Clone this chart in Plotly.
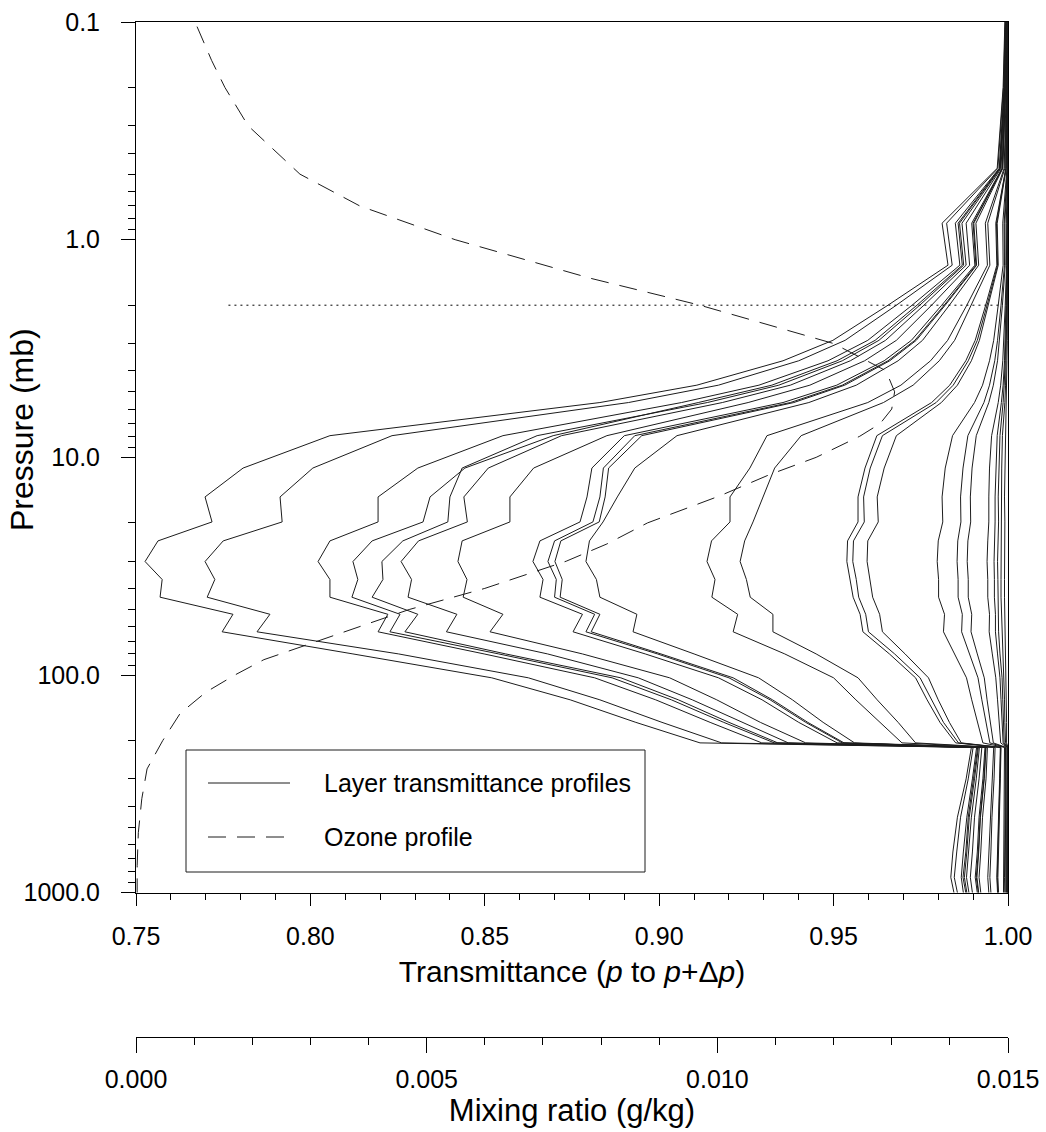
import plotly.graph_objects as go

# ---------------- data ----------------
PRESSURE_LEVELS = [0.1, 0.2, 0.47, 0.84, 1.31, 2.0, 2.9, 3.6, 4.66, 5.6, 7.95, 11.2, 15.2, 19.8,
                   24.2, 30.1, 36.4, 43.9, 52.6, 63.3, 80, 103, 130, 165, 205, 215, 300, 450,
                   650, 850, 1000]

trans_a = [0.9991, 0.9986, 0.9969, 0.9811, 0.9828, 0.9656, 0.9498, 0.9355, 0.9108, 0.8830, 0.8056,
           0.7807, 0.7698, 0.7718, 0.7563, 0.7526, 0.7575, 0.7569, 0.7778, 0.7747, 0.8122, 0.8520,
           0.8745, 0.8933, 0.9117, 0.9895, 0.9880, 0.9855, 0.9842, 0.9836, 0.9845]
trans_b = [0.9992, 0.9987, 0.9971, 0.9824, 0.9840, 0.9680, 0.9533, 0.9400, 0.9170, 0.8912, 0.8234,
           0.8007, 0.7913, 0.7919, 0.7750, 0.7698, 0.7726, 0.7704, 0.7884, 0.7847, 0.8253, 0.8625,
           0.8830, 0.9008, 0.9179, 0.9900, 0.9886, 0.9864, 0.9853, 0.9846, 0.9855]
trans_c = [0.9993, 0.9989, 0.9975, 0.9849, 0.9862, 0.9725, 0.9598, 0.9484, 0.9286, 0.9064, 0.8552,
           0.8308, 0.8194, 0.8194, 0.8056, 0.8022, 0.8056, 0.8056, 0.8222, 0.8194, 0.8498, 0.8815,
           0.8990, 0.9146, 0.9294, 0.9910, 0.9898, 0.9882, 0.9872, 0.9866, 0.9872]
trans_d = [0.9993, 0.9989, 0.9976, 0.9857, 0.9869, 0.9739, 0.9619, 0.9510, 0.9323, 0.9112, 0.8696,
           0.8443, 0.8343, 0.8323, 0.8177, 0.8122, 0.8136, 0.8119, 0.8257, 0.8228, 0.8540, 0.8865,
           0.9035, 0.9185, 0.9330, 0.9913, 0.9901, 0.9886, 0.9879, 0.9871, 0.9879]
trans_e = [0.9993, 0.9990, 0.9977, 0.9861, 0.9873, 0.9747, 0.9630, 0.9525, 0.9343, 0.9138, 0.8650,
           0.8435, 0.8400, 0.8394, 0.8265, 0.8205, 0.8208, 0.8177, 0.8308, 0.8271, 0.8560, 0.8890,
           0.9055, 0.9200, 0.9340, 0.9915, 0.9904, 0.9889, 0.9882, 0.9875, 0.9882]
trans_f = [0.9994, 0.9990, 0.9978, 0.9868, 0.9880, 0.9759, 0.9649, 0.9548, 0.9376, 0.9181, 0.8720,
           0.8510, 0.8440, 0.8450, 0.8310, 0.8260, 0.8290, 0.8280, 0.8420, 0.8390, 0.8680, 0.8940,
           0.9095, 0.9240, 0.9370, 0.9918, 0.9909, 0.9895, 0.9888, 0.9881, 0.9888]
trans_g = [0.9994, 0.9991, 0.9980, 0.9880, 0.9890, 0.9781, 0.9680, 0.9589, 0.9432, 0.9255, 0.8850,
           0.8640, 0.8572, 0.8572, 0.8435, 0.8423, 0.8449, 0.8438, 0.8552, 0.8515, 0.8780, 0.9030,
           0.9165, 0.9290, 0.9420, 0.9925, 0.9917, 0.9904, 0.9898, 0.9892, 0.9898]
trans_h = [0.9995, 0.9992, 0.9983, 0.9896, 0.9905, 0.9810, 0.9723, 0.9645, 0.9509, 0.9355, 0.8900,
           0.8807, 0.8793, 0.8773, 0.8658, 0.8638, 0.8667, 0.8658, 0.8780, 0.8753, 0.8960, 0.9170,
           0.9295, 0.9400, 0.9510, 0.9934, 0.9928, 0.9917, 0.9912, 0.9906, 0.9912]
trans_i = [0.9995, 0.9993, 0.9984, 0.9900, 0.9908, 0.9817, 0.9733, 0.9656, 0.9525, 0.9376, 0.8930,
           0.8840, 0.8830, 0.8810, 0.8700, 0.8681, 0.8705, 0.8700, 0.8815, 0.8790, 0.8995, 0.9200,
           0.9318, 0.9420, 0.9525, 0.9936, 0.9931, 0.9920, 0.9915, 0.9909, 0.9915]
trans_j = [0.9995, 0.9993, 0.9984, 0.9902, 0.9910, 0.9820, 0.9737, 0.9661, 0.9532, 0.9386, 0.8950,
           0.8855, 0.8845, 0.8828, 0.8718, 0.8701, 0.8722, 0.8716, 0.8830, 0.8805, 0.9005, 0.9212,
           0.9325, 0.9426, 0.9530, 0.9937, 0.9932, 0.9921, 0.9916, 0.9911, 0.9916]
trans_k = [0.9996, 0.9993, 0.9985, 0.9908, 0.9916, 0.9832, 0.9755, 0.9685, 0.9565, 0.9429, 0.9051,
           0.8930, 0.8880, 0.8839, 0.8800, 0.8790, 0.8820, 0.8830, 0.8936, 0.8925, 0.9100, 0.9285,
           0.9382, 0.9470, 0.9560, 0.9941, 0.9937, 0.9927, 0.9922, 0.9917, 0.9922]
trans_l = [0.9997, 0.9995, 0.9989, 0.9935, 0.9941, 0.9882, 0.9827, 0.9778, 0.9693, 0.9598, 0.9309,
           0.9260, 0.9203, 0.9203, 0.9150, 0.9137, 0.9160, 0.9151, 0.9225, 0.9212, 0.9360, 0.9500,
           0.9564, 0.9633, 0.9696, 0.9959, 0.9955, 0.9948, 0.9945, 0.9942, 0.9945]
trans_m = [0.9997, 0.9996, 0.9991, 0.9942, 0.9948, 0.9895, 0.9847, 0.9803, 0.9728, 0.9643, 0.9407,
           0.9331, 0.9298, 0.9269, 0.9245, 0.9232, 0.9250, 0.9261, 0.9326, 0.9326, 0.9450, 0.9570,
           0.9625, 0.9685, 0.9735, 0.9963, 0.9960, 0.9954, 0.9951, 0.9948, 0.9951]
trans_n = [0.9998, 0.9997, 0.9994, 0.9965, 0.9968, 0.9936, 0.9906, 0.9879, 0.9833, 0.9781, 0.9624,
           0.9590, 0.9570, 0.9570, 0.9540, 0.9538, 0.9548, 0.9556, 0.9576, 0.9584, 0.9660, 0.9735,
           0.9768, 0.9805, 0.9850, 0.9978, 0.9976, 0.9972, 0.9970, 0.9968, 0.9970]
trans_o = [0.9998, 0.9997, 0.9994, 0.9967, 0.9970, 0.9940, 0.9912, 0.9886, 0.9843, 0.9794, 0.9640,
           0.9605, 0.9586, 0.9588, 0.9557, 0.9555, 0.9565, 0.9572, 0.9592, 0.9600, 0.9675, 0.9748,
           0.9780, 0.9815, 0.9858, 0.9979, 0.9977, 0.9973, 0.9971, 0.9969, 0.9971]
trans_p = [0.9998, 0.9998, 0.9995, 0.9969, 0.9972, 0.9944, 0.9918, 0.9895, 0.9855, 0.9809, 0.9680,
           0.9645, 0.9625, 0.9628, 0.9598, 0.9596, 0.9605, 0.9612, 0.9632, 0.9640, 0.9705, 0.9772,
           0.9800, 0.9832, 0.9866, 0.9980, 0.9978, 0.9975, 0.9973, 0.9971, 0.9973]
trans_q = [0.9999, 0.9999, 0.9997, 0.9985, 0.9986, 0.9972, 0.9959, 0.9947, 0.9927, 0.9904, 0.9841,
           0.9820, 0.9811, 0.9813, 0.9800, 0.9797, 0.9801, 0.9801, 0.9818, 0.9815, 0.9846, 0.9881,
           0.9896, 0.9913, 0.9928, 0.9990, 0.9989, 0.9988, 0.9987, 0.9986, 0.9987]
trans_r = [0.9999, 0.9999, 0.9998, 0.9989, 0.9990, 0.9980, 0.9970, 0.9962, 0.9947, 0.9931, 0.9885,
           0.9871, 0.9864, 0.9865, 0.9856, 0.9854, 0.9857, 0.9857, 0.9869, 0.9867, 0.9889, 0.9914,
           0.9925, 0.9937, 0.9948, 0.9993, 0.9992, 0.9991, 0.9991, 0.9990, 0.9991]
trans_s = [1.0000, 0.9999, 0.9999, 0.9991, 0.9992, 0.9984, 0.9976, 0.9970, 0.9958, 0.9945, 0.9909,
           0.9897, 0.9892, 0.9893, 0.9885, 0.9883, 0.9886, 0.9886, 0.9896, 0.9894, 0.9912, 0.9932,
           0.9940, 0.9950, 0.9958, 0.9994, 0.9994, 0.9993, 0.9992, 0.9992, 0.9992]
trans_t = [1.0000, 1.0000, 0.9999, 0.9995, 0.9996, 0.9992, 0.9988, 0.9985, 0.9979, 0.9972, 0.9953,
           0.9947, 0.9945, 0.9945, 0.9942, 0.9940, 0.9942, 0.9942, 0.9947, 0.9946, 0.9955, 0.9965,
           0.9970, 0.9974, 0.9979, 0.9997, 0.9997, 0.9996, 0.9996, 0.9996, 0.9996]
trans_u = [1.0000, 1.0000, 1.0000, 0.9997, 0.9997, 0.9994, 0.9992, 0.9990, 0.9986, 0.9981, 0.9969,
           0.9965, 0.9963, 0.9963, 0.9961, 0.9960, 0.9961, 0.9961, 0.9964, 0.9964, 0.9970, 0.9977,
           0.9980, 0.9983, 0.9986, 0.9998, 0.9998, 0.9998, 0.9997, 0.9997, 0.9997]
trans_v = [1.0000, 1.0000, 1.0000, 0.9998, 0.9998, 0.9996, 0.9994, 0.9992, 0.9989, 0.9986, 0.9977,
           0.9974, 0.9972, 0.9973, 0.9971, 0.9970, 0.9971, 0.9971, 0.9973, 0.9973, 0.9977, 0.9983,
           0.9985, 0.9987, 0.9989, 0.9999, 0.9998, 0.9998, 0.9998, 0.9998, 0.9998]
trans_w = [1.0000, 1.0000, 1.0000, 0.9998, 0.9999, 0.9997, 0.9996, 0.9995, 0.9993, 0.9991, 0.9984,
           0.9982, 0.9981, 0.9981, 0.9980, 0.9980, 0.9980, 0.9980, 0.9982, 0.9982, 0.9985, 0.9988,
           0.9990, 0.9991, 0.9993, 0.9999, 0.9999, 0.9999, 0.9999, 0.9999, 0.9999]
trans_x = [1.0000, 1.0000, 1.0000, 0.9999, 0.9999, 0.9999, 0.9998, 0.9997, 0.9996, 0.9995, 0.9992,
           0.9991, 0.9990, 0.9991, 0.9990, 0.9990, 0.9990, 0.9990, 0.9991, 0.9991, 0.9992, 0.9994,
           0.9995, 0.9996, 0.9996, 1.0000, 1.0000, 1.0000, 1.0000, 1.0000, 1.0000]

TRANSMITTANCE_PROFILES = [trans_a, trans_b, trans_c, trans_d, trans_e, trans_f, trans_g, trans_h,
                          trans_i, trans_j, trans_k, trans_l, trans_m, trans_n, trans_o, trans_p,
                          trans_q, trans_r, trans_s, trans_t, trans_u, trans_v, trans_w, trans_x]

OZONE_PRESSURE = [0.105, 0.15, 0.2, 0.3, 0.5, 0.7, 1.0, 1.5, 2.0, 3.0, 4.0, 5.0, 6.0, 7.0, 8.0,
                  10, 12, 15, 20, 25, 30, 40, 50, 60, 70, 85, 100, 120, 150, 200, 270, 370, 530,
                  750, 1000]
OZONE_MIXING_RATIO = [0.00105, 0.00130, 0.00153, 0.00193, 0.00282, 0.00385, 0.00549, 0.00780,
                      0.00970, 0.01200, 0.01290, 0.01305, 0.01300, 0.01280, 0.01245, 0.01170,
                      0.01090, 0.01005, 0.00880, 0.00810, 0.00740, 0.00600, 0.00470, 0.00385,
                      0.00310, 0.00220, 0.00170, 0.00120, 0.00076, 0.00046, 0.00019, 0.00010,
                      0.00004, 0.00002, 0.00002]

REFERENCE_LEVEL_P = [2.0, 2.0]
REFERENCE_LEVEL_T = [0.7765, 0.998]

Y_TICKS = [0.1, 1, 10, 100, 1000]
Y_TICK_TEXT = ["0.1", "1.0", "10.0", "100.0", "1000.0"]
X_TICKS = [0.75, 0.80, 0.85, 0.90, 0.95, 1.00]
X_TICK_TEXT = ["0.75", "0.80", "0.85", "0.90", "0.95", "1.00"]
MR_TICKS = [0.0, 0.005, 0.010, 0.015]
MR_TICK_TEXT = ["0.000", "0.005", "0.010", "0.015"]
Y_MINOR = [m * d for d in (0.1, 1, 10, 100) for m in range(2, 10)]

# ---------------- figure ----------------
LINE_COLOR = "#1c1c1c"
FONT = "Liberation Sans, Arial, Helvetica, sans-serif"

fig = go.Figure()
for prof in TRANSMITTANCE_PROFILES:
    fig.add_trace(go.Scatter(x=prof, y=PRESSURE_LEVELS, mode="lines",
                             line=dict(color=LINE_COLOR, width=1),
                             name="Layer transmittance profiles", showlegend=False,
                             hoverinfo="skip"))

fig.add_trace(go.Scatter(x=OZONE_MIXING_RATIO, y=OZONE_PRESSURE, mode="lines",
                         xaxis="x2", yaxis="y",
                         line=dict(color=LINE_COLOR, width=1, dash="18px,11px"),
                         name="Ozone profile", showlegend=False, hoverinfo="skip"))

fig.add_trace(go.Scatter(x=REFERENCE_LEVEL_T, y=REFERENCE_LEVEL_P, mode="lines",
                         line=dict(color="black", width=1, dash="2px,4px"),
                         showlegend=False, hoverinfo="skip"))

W, H = 1046, 1132
ML, MR_, MT, MB = 136, 38, 22, 95
plot_h = H - MT - MB
y_dom_low = (1037 - 892.7) / plot_h


def px_to_paper_x(px):
    return (px - ML) / (W - ML - MR_)


def px_to_paper_y(py):
    return (H - MB - py) / plot_h


# manual legend
bx0, bx1 = px_to_paper_x(186), px_to_paper_x(645)
by0, by1 = px_to_paper_y(872), px_to_paper_y(750)
shapes = [
    dict(type="rect", xref="paper", yref="paper", x0=bx0, x1=bx1, y0=by0, y1=by1,
         line=dict(color=LINE_COLOR, width=1), fillcolor="white", layer="above"),
    dict(type="line", xref="paper", yref="paper", x0=px_to_paper_x(208), x1=px_to_paper_x(290),
         y0=px_to_paper_y(783), y1=px_to_paper_y(783), line=dict(color=LINE_COLOR, width=1)),
    dict(type="line", xref="paper", yref="paper", x0=px_to_paper_x(208), x1=px_to_paper_x(290),
         y0=px_to_paper_y(837), y1=px_to_paper_y(837),
         line=dict(color=LINE_COLOR, width=1, dash="18px,11px")),
]
annotations = [
    dict(text="Layer transmittance profiles", xref="paper", yref="paper",
         x=px_to_paper_x(322), y=px_to_paper_y(783), xanchor="left", yanchor="middle",
         showarrow=False, font=dict(size=25, family=FONT, color="black")),
    dict(text="Ozone profile", xref="paper", yref="paper",
         x=px_to_paper_x(322), y=px_to_paper_y(837), xanchor="left", yanchor="middle",
         showarrow=False, font=dict(size=25, family=FONT, color="black")),
    dict(text="Pressure (mb)", xref="paper", yref="paper", textangle=-90,
         x=px_to_paper_x(22), y=px_to_paper_y(430), xanchor="center", yanchor="middle",
         showarrow=False, font=dict(size=32, family=FONT, color="black")),
]

axis_common = dict(showgrid=False, zeroline=False, showline=True, linecolor="black", linewidth=1,
                   ticks="outside", tickcolor="black", tickwidth=1, automargin=False)

fig.update_layout(
    width=W, height=H,
    margin=dict(l=ML, r=MR_, t=MT, b=MB),
    paper_bgcolor="white", plot_bgcolor="white",
    showlegend=False,
    font=dict(family=FONT, size=25, color="black"),
    shapes=shapes, annotations=annotations,
    xaxis=dict(range=[0.75, 1.0], anchor="y", mirror=True,
               tickmode="array", tickvals=X_TICKS, ticktext=X_TICK_TEXT, ticklen=12,
               ticklabelstandoff=9,
               minor=dict(ticks="outside", ticklen=6, dtick=0.01, tick0=0.75,
                          tickcolor="black", showgrid=False),
               title=dict(text="Transmittance (<i>p</i> to <i>p</i>+Δ<i>p</i>)",
                          font=dict(size=30), standoff=12),
               **axis_common),
    xaxis2=dict(range=[0.0, 0.015], overlaying="x", anchor="free", position=0, side="bottom",
                tickmode="array", tickvals=MR_TICKS, ticktext=MR_TICK_TEXT, ticklen=15,
                ticklabelstandoff=5,
                minor=dict(ticks="outside", ticklen=7, dtick=0.001, tick0=0,
                           tickcolor="black", showgrid=False),
                title=dict(text="Mixing ratio (g/kg)", font=dict(size=31), standoff=4),
                **axis_common),
    yaxis=dict(type="log", range=[3, -1], domain=[y_dom_low, 1], anchor="x", mirror=True,
               tickmode="array", tickvals=Y_TICKS, ticktext=Y_TICK_TEXT, ticklen=14,
               ticklabelstandoff=16,
               minor=dict(ticks="outside", ticklen=7, tickvals=Y_MINOR,
                          tickcolor="black", showgrid=False),
               **axis_common),
)

fig.write_html("out.html")
